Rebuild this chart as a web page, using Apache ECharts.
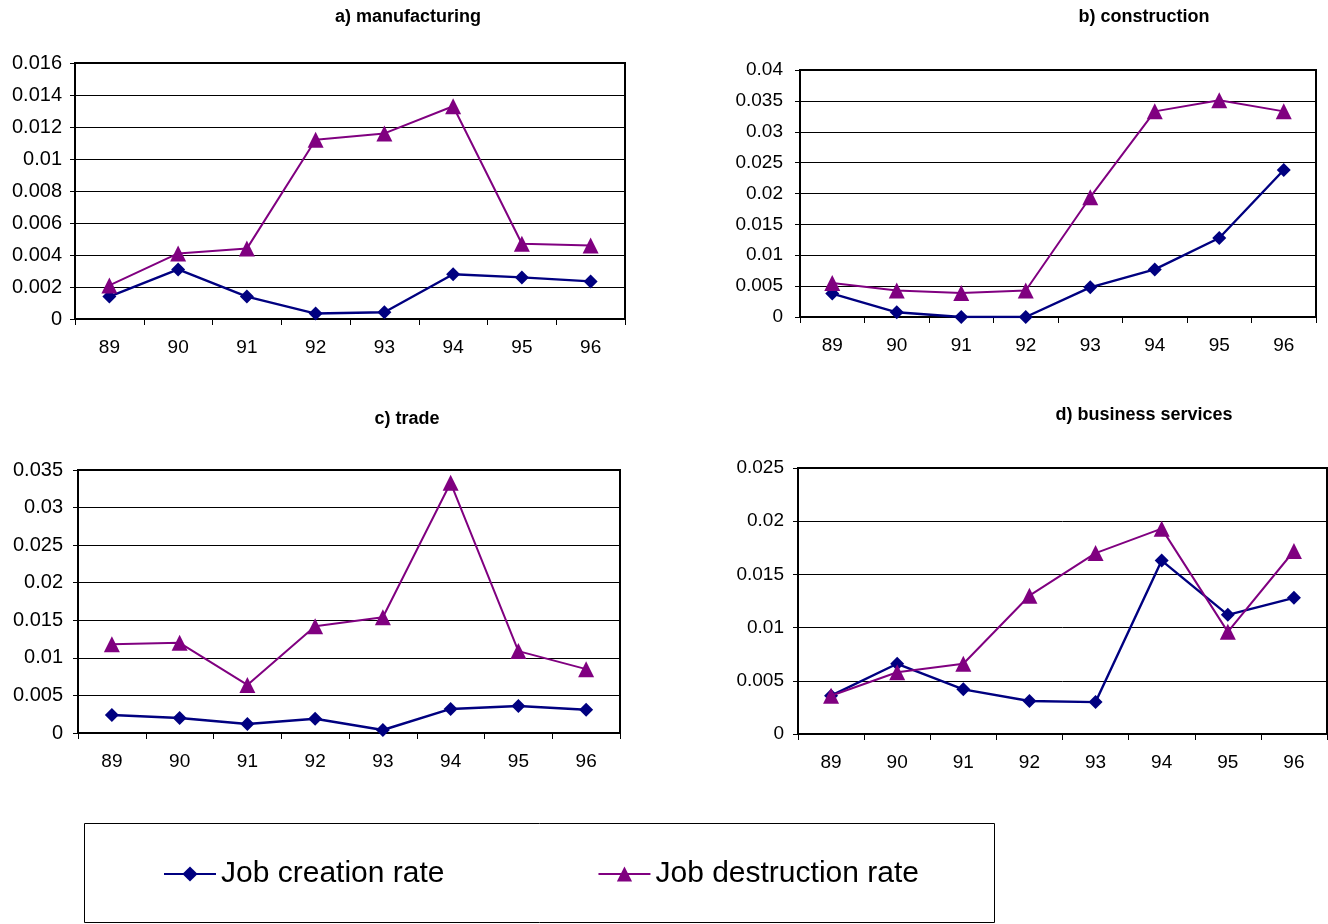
<!DOCTYPE html>
<html>
<head>
<meta charset="utf-8">
<title>Job creation and destruction rates by sector</title>
<script src="https://cdn.jsdelivr.net/npm/echarts@6/dist/echarts.min.js"></script>
<style>
  html, body { margin: 0; padding: 0; background: #fff; }
  #chart { width: 1328px; height: 924px; }
</style>
</head>
<body>
<div id="chart"></div>
<script>
// Years on the category axis
const years = ['89', '90', '91', '92', '93', '94', '95', '96'];

// a) manufacturing
const manufCreation    = [0.0014, 0.0031, 0.0014, 0.00034, 0.00042, 0.0028, 0.0026, 0.00235];
const manufDestruction = [0.0021, 0.0041, 0.0044, 0.0112, 0.0116, 0.0133, 0.0047, 0.0046];

// b) construction
const constrCreation    = [0.0038, 0.00076, 0.0, 0.0, 0.0048, 0.0077, 0.0128, 0.0238];
const constrDestruction = [0.0055, 0.0043, 0.0039, 0.0043, 0.0194, 0.0333, 0.0351, 0.0333];

// c) trade
const tradeCreation    = [0.0024, 0.0020, 0.0012, 0.0019, 0.0004, 0.0032, 0.0036, 0.0031];
const tradeDestruction = [0.0118, 0.0120, 0.0064, 0.0142, 0.0154, 0.0333, 0.0109, 0.0085];

// d) business services
const bizCreation    = [0.0036, 0.0066, 0.0042, 0.0031, 0.0030, 0.0163, 0.0112, 0.0128];
const bizDestruction = [0.0036, 0.0058, 0.0066, 0.0130, 0.0170, 0.0193, 0.0096, 0.0172];

// Axis ranges per panel
const yMax      = [0.016, 0.04, 0.035, 0.025];
const yInterval = [0.002, 0.005, 0.005, 0.005];

const panelTitles = ['a) manufacturing', 'b) construction', 'c) trade', 'd) business services'];
const creationSets    = [manufCreation, constrCreation, tradeCreation, bizCreation];
const destructionSets = [manufDestruction, constrDestruction, tradeDestruction, bizDestruction];

const FONT = '"Liberation Sans", Arial, sans-serif';
const CREATION_COLOR = '#000080';
const DESTRUCTION_COLOR = '#800080';

// Plot rectangles (px)
const grids = [
  { left: 75,  top: 63,  width: 550, height: 256 },
  { left: 800, top: 70,  width: 516, height: 247 },
  { left: 78,  top: 470, width: 542, height: 263 },
  { left: 798, top: 468, width: 529, height: 266 }
];
const titlePos = [
  { x: 403,  y: 3 },
  { x: 1139, y: 3 },
  { x: 402,  y: 405 },
  { x: 1139, y: 401 }
];
const yLabelMargin = [13, 17, 15, 14];
const yLabelSize   = [20, 19, 20, 19];

const fmt = v => String(+v.toFixed(4));

const option = {
  backgroundColor: '#fff',
  animation: false,
  textStyle: { fontFamily: FONT },
  title: panelTitles.map((t, i) => ({
    text: t,
    left: titlePos[i].x,
    top: titlePos[i].y,
    textAlign: 'center',
    textStyle: { fontFamily: FONT, fontSize: 18, fontWeight: 'bold', color: '#000' }
  })),
  grid: grids.map(g => Object.assign({
    show: true,
    backgroundColor: '#fff',
    borderColor: '#000',
    borderWidth: 2,
    containLabel: false
  }, g)),
  xAxis: grids.map((g, i) => ({
    type: 'category',
    gridIndex: i,
    data: years,
    boundaryGap: true,
    axisLine: { show: true, lineStyle: { color: '#000', width: 2 } },
    axisTick: { show: true, length: 6, lineStyle: { color: '#000', width: 1 } },
    axisLabel: { margin: 19, fontSize: 19, color: '#000', fontFamily: FONT },
    splitLine: { show: false }
  })),
  yAxis: grids.map((g, i) => ({
    type: 'value',
    gridIndex: i,
    min: 0,
    max: yMax[i],
    interval: yInterval[i],
    axisLine: { show: true, lineStyle: { color: '#000', width: 2 } },
    axisTick: { show: true, length: 5, lineStyle: { color: '#000', width: 1 } },
    axisLabel: { margin: yLabelMargin[i], fontSize: yLabelSize[i], color: '#000', fontFamily: FONT, formatter: fmt },
    splitLine: { show: true, lineStyle: { color: '#000', width: 1 } }
  })),
  legend: {
    left: 163,
    top: 859,
    padding: 0,
    itemWidth: 52,
    itemHeight: 19,
    itemGap: 153,
    textStyle: { fontSize: 30, color: '#000', fontFamily: FONT },
    data: ['Job creation rate', 'Job destruction rate']
  },
  graphic: [{
    type: 'rect',
    shape: { x: 84.5, y: 823.5, width: 910, height: 99 },
    style: { fill: 'none', stroke: '#000', lineWidth: 1 },
    z: -1
  }],
  series: []
};

for (let i = 0; i < 4; i++) {
  option.series.push({
    name: 'Job creation rate',
    type: 'line',
    xAxisIndex: i,
    yAxisIndex: i,
    data: creationSets[i],
    symbol: 'diamond',
    symbolSize: 14,
    color: CREATION_COLOR,
    lineStyle: { color: CREATION_COLOR, width: 2.4 },
    itemStyle: { color: CREATION_COLOR },
    z: 3
  });
  option.series.push({
    name: 'Job destruction rate',
    type: 'line',
    xAxisIndex: i,
    yAxisIndex: i,
    data: destructionSets[i],
    symbol: 'triangle',
    symbolSize: 16,
    color: DESTRUCTION_COLOR,
    lineStyle: { color: DESTRUCTION_COLOR, width: 2 },
    itemStyle: { color: DESTRUCTION_COLOR },
    z: 4
  });
}

const chart = echarts.init(document.getElementById('chart'), null, { renderer: 'canvas' });
chart.setOption(option);
</script>
</body>
</html>
